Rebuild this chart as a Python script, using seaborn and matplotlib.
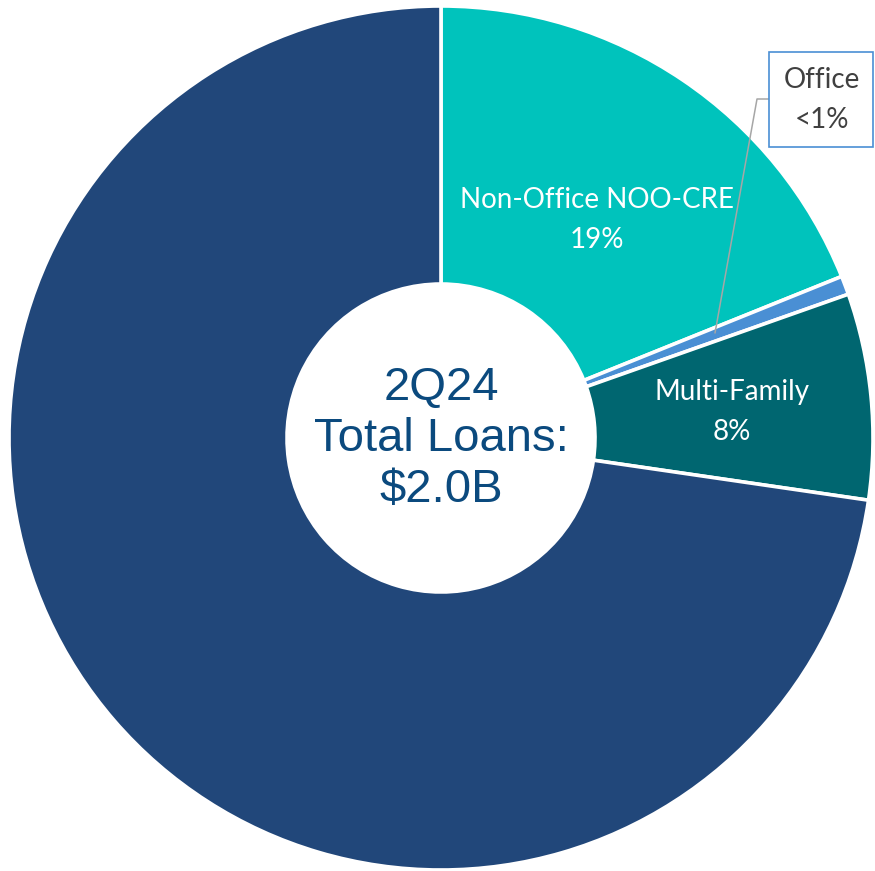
import matplotlib
matplotlib.use("Agg")
import matplotlib.pyplot as plt
import seaborn as sns
from matplotlib.patches import Rectangle

# ---- data ----
categories = ["Non-Office NOO-CRE", "Office", "Multi-Family", "Other Loans"]
shares = [18.9, 0.7, 7.7, 72.7]
pct_labels = ["19%", "<1%", "8%", ""]
colors = ["#00C3BC", "#4A8FD4", "#006670", "#21477A"]
center_lines = ["2Q24", "Total Loans:", "$2.0B"]

sns.set_theme(style="white")
plt.rcParams['font.family'] = ['Lato', 'DejaVu Sans']

W, H = 875, 871
fig = plt.figure(figsize=(W / 100, H / 100), dpi=100)
ax = fig.add_axes([0, 0, 1, 1])

cx, cy, R, r_in = 441, H - 438, 432, 154
wedges, _ = ax.pie(shares, colors=colors, startangle=90, counterclock=False,
                   radius=R, center=(cx, cy),
                   wedgeprops=dict(width=R - r_in, edgecolor='white', linewidth=2.6))
ax.set_xlim(0, W)
ax.set_ylim(0, H)
ax.set_aspect('auto')
ax.axis('off')

# center text
ax.text(cx, H - 439, "\n".join(center_lines), ha='center', va='center',
        fontsize=34, color='#0B4A7E', family=['Liberation Sans', 'DejaVu Sans'],
        linespacing=1.2)

# in-slice labels
lab_kw = dict(ha='center', va='center', fontsize=20, linespacing=1.62)
ax.text(597, H - 220, f"{categories[0]}\n{pct_labels[0]}", color='white', **lab_kw)
ax.text(732, H - 412, f"{categories[2]}\n{pct_labels[2]}", color='white', **lab_kw)

# Office callout
ax.add_patch(Rectangle((769, H - 147), 104, 95, facecolor='white',
                       edgecolor='#4A8FD4', linewidth=1.2, zorder=5))
ax.text(822, H - 100, f"{categories[1]}\n{pct_labels[1]}", color='#404040', zorder=6, **lab_kw)
ax.plot([715, 757, 769], [H - 333, H - 99, H - 99], color='#A6A6A6', linewidth=1.1, zorder=4)

fig.savefig("out.png", dpi=100, facecolor='white')
